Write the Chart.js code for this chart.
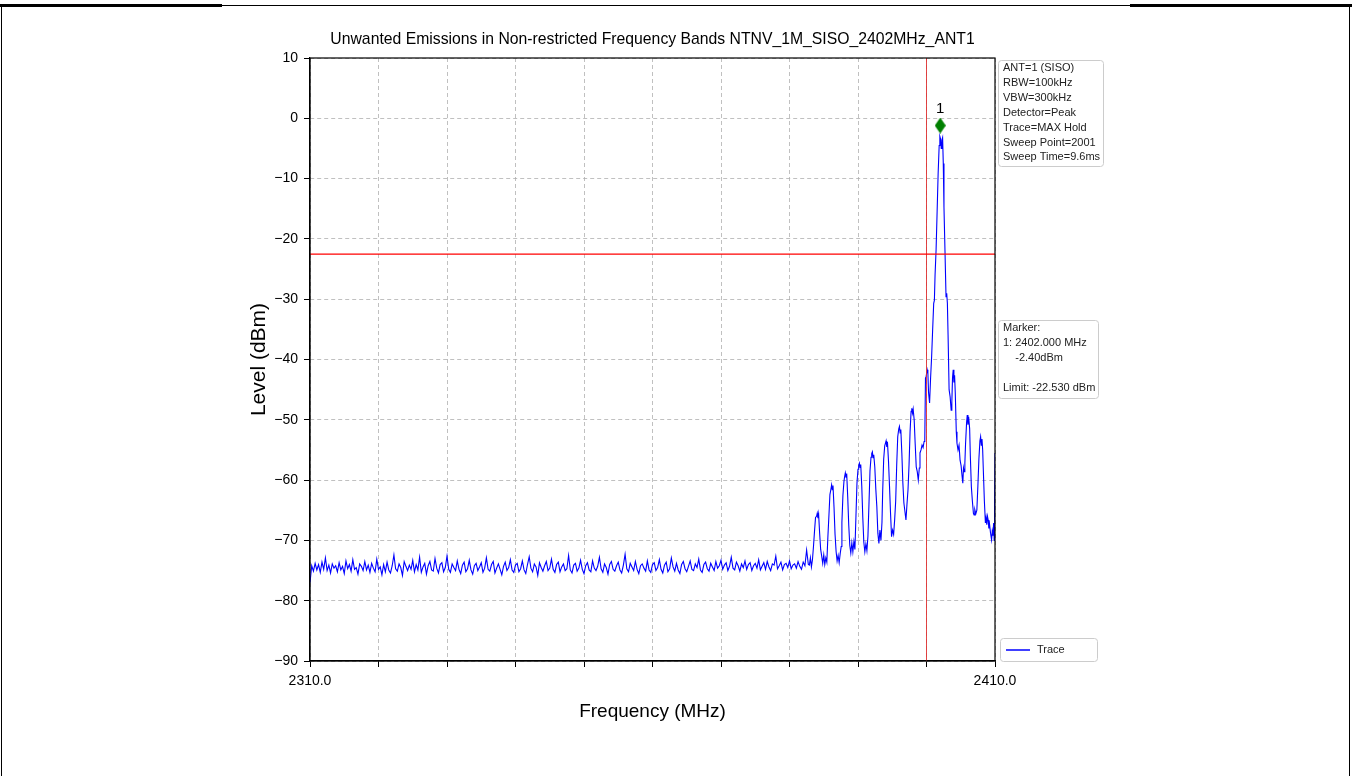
<!DOCTYPE html>
<html>
<head>
<meta charset="utf-8">
<title>Unwanted Emissions</title>
<script src="https://cdn.jsdelivr.net/npm/chart.js@4.4.0/dist/chart.umd.min.js"></script>
<style>
  html, body { margin: 0; padding: 0; background: #fff; }
  #wrap { position: relative; width: 1352px; height: 776px; overflow: hidden; }
  #chart { position: absolute; left: 0; top: 0; }
  .frame { position: absolute; background: #000; }
</style>
</head>
<body>
<div id="wrap">
  <canvas id="chart" width="1352" height="776"></canvas>
  <div class="frame" style="left:0;top:4px;width:222px;height:3px"></div>
  <div class="frame" style="left:222px;top:5px;width:908px;height:1px"></div>
  <div class="frame" style="left:1130px;top:4px;width:222px;height:3px"></div>
  <div class="frame" style="left:1px;top:5px;width:1px;height:771px"></div>
  <div class="frame" style="left:1349px;top:5px;width:1px;height:771px"></div>
</div>
<script>
// Spectrum plot, 2310 - 2410 MHz

const FONT = '"Liberation Sans", Arial, Helvetica, sans-serif';

const freqRange = [2310, 2410];
const levelRange = [-90, 10];
const freqTickLabels = ['2310.0', '2410.0'];

// noise floor, one reading every 0.25 MHz starting at 2310.0 MHz
const floorStart = 2310.0;
const floorStep = 0.25;
const floorLevels = [
  -77.0,-74.2,-75.1,-73.8,-74.9,-74.0,-75.3,-73.6,-74.8,-72.9,-75.0,-74.1,-75.4,-73.9,-74.6,-74.2,-75.2,-73.7,-74.9,-74.3,
  -75.5,-73.4,-74.7,-74.0,-75.1,-73.2,-74.8,-74.5,-75.6,-73.9,-74.3,-75.0,-73.5,-74.9,-74.1,-75.3,-73.8,-74.6,-75.2,-73.1,
  -74.8,-74.4,-75.7,-74.0,-75.2,-73.6,-74.9,-75.4,-74.2,-72.4,-74.7,-75.1,-73.9,-74.5,-75.8,-73.5,-74.3,-75.0,-74.1,-74.8,
  -73.3,-75.2,-74.0,-74.9,-72.8,-75.3,-74.4,-73.8,-75.6,-74.2,-73.5,-74.9,-75.1,-73.0,-74.6,-75.4,-74.0,-73.7,-75.2,-74.5,
  -72.6,-74.8,-75.3,-73.9,-74.5,-75.0,-73.4,-74.8,-75.5,-74.1,-73.6,-75.2,-74.7,-73.3,-74.9,-75.6,-74.2,-73.8,-75.0,-74.4,
  -73.7,-75.3,-74.6,-72.9,-74.8,-75.1,-74.0,-73.5,-75.4,-74.6,-73.9,-74.8,-75.7,-74.3,-73.6,-75.0,-74.5,-73.2,-74.9,-75.3,
  -74.1,-73.8,-75.2,-74.7,-73.4,-74.9,-75.5,-74.0,-72.7,-74.6,-75.2,-73.9,-74.4,-75.8,-73.7,-74.5,-75.1,-74.2,-73.5,-75.0,
  -74.6,-73.1,-74.8,-75.3,-74.0,-73.6,-75.2,-74.4,-73.9,-75.0,-74.7,-72.5,-74.9,-75.4,-74.1,-73.8,-75.1,-74.6,-73.3,-74.8,
  -75.5,-74.2,-73.7,-74.9,-75.2,-73.4,-74.6,-75.0,-74.3,-72.8,-74.7,-75.3,-73.9,-74.5,-75.6,-74.0,-73.5,-74.8,-75.1,-74.2,
  -73.6,-74.9,-75.4,-74.1,-72.3,-74.7,-75.2,-73.8,-74.4,-75.0,-73.5,-74.8,-75.5,-74.2,-73.9,-74.6,-75.1,-73.4,-74.9,-75.3,
  -74.0,-73.7,-75.0,-74.5,-73.2,-74.8,-75.4,-74.1,-73.6,-75.2,-74.7,-72.9,-74.4,-75.1,-73.8,-74.9,-75.5,-74.0,-73.5,-74.7,
  -75.2,-74.3,-73.4,-74.8,-75.0,-73.9,-74.5,-73.1,-74.9,-75.3,-74.0,-73.6,-74.7,-75.1,-73.8,-74.4,-75.0,-73.5,-74.6,-74.2,
  -73.3,-74.8,-74.1,-73.7,-75.0,-74.3,-72.8,-74.6,-74.9,-73.6,-74.2,-75.1,-73.9,-74.5,-73.4,-74.8,-74.0,-73.7,-75.0,-74.2,
  -73.8,-74.6,-73.2,-74.9,-74.3,-73.7,-74.8,-73.5,-74.4,-75.0,-73.9,-74.1,-72.6,-74.7,-74.2,-73.6,-74.9,-74.0,-73.8,-74.5,
  -73.4,-74.7,-74.1,-73.9,-74.6,-73.5,-74.3,-74.8,-73.6,-74.2,-71.6,-74.0
];

// band edge side lobes and the carrier, [MHz, dBm]
const edgeTrace = [
  [2382.9,-74.1],[2383.05,-72.9],[2383.2,-74.4],[2383.35,-73.2],
  [2383.5,-71.0],[2383.65,-68.5],[2383.8,-66.2],[2383.95,-66.0],[2384.05,-65.5],[2384.15,-66.3],[2384.25,-65.6],[2384.4,-68.8],
  [2384.55,-71.5],[2384.7,-72.6],[2384.85,-73.8],[2385.0,-72.4],[2385.15,-74.0],[2385.3,-72.9],[2385.45,-73.6],
  [2385.6,-69.5],[2385.75,-66.0],[2385.9,-62.4],[2386.05,-61.5],[2386.15,-60.8],[2386.25,-61.6],[2386.35,-60.9],[2386.5,-64.5],
  [2386.65,-69.0],[2386.8,-71.8],[2386.95,-73.4],[2387.1,-72.5],[2387.25,-73.7],[2387.4,-72.2],[2387.55,-71.0],
  [2387.65,-67.0],[2387.8,-62.5],[2387.95,-60.2],[2388.05,-59.4],[2388.15,-58.8],[2388.25,-59.5],[2388.35,-58.9],[2388.5,-62.8],
  [2388.65,-67.5],[2388.8,-70.8],[2388.95,-72.1],[2389.1,-70.4],[2389.25,-71.9],[2389.4,-70.2],[2389.55,-71.5],
  [2389.7,-66.0],[2389.85,-60.5],[2390.0,-58.2],[2390.1,-57.6],[2390.2,-57.2],[2390.3,-57.9],[2390.4,-57.4],[2390.55,-61.0],
  [2390.7,-66.2],[2390.85,-70.3],[2391.0,-71.9],[2391.15,-70.6],[2391.3,-71.7],[2391.45,-69.3],
  [2391.6,-64.0],[2391.75,-58.5],[2391.9,-56.2],[2392.0,-55.6],[2392.1,-55.3],[2392.2,-56.3],[2392.3,-55.8],[2392.45,-57.8],
  [2392.6,-61.5],[2392.75,-64.4],[2392.9,-68.8],[2393.05,-70.5],[2393.2,-68.3],[2393.35,-70.0],[2393.5,-67.0],
  [2393.6,-62.0],[2393.75,-56.5],[2393.9,-54.3],[2394.0,-53.9],[2394.1,-53.5],[2394.2,-54.5],[2394.3,-53.7],[2394.45,-56.8],
  [2394.6,-61.0],[2394.75,-65.5],[2394.9,-69.4],[2395.05,-68.3],[2395.2,-69.0],[2395.35,-66.6],[2395.5,-63.5],
  [2395.65,-57.5],[2395.8,-52.8],[2395.95,-51.5],[2396.05,-51.1],[2396.15,-52.2],[2396.25,-51.6],[2396.4,-55.5],[2396.55,-60.5],
  [2396.7,-63.8],[2396.85,-65.2],[2397.0,-66.6],[2397.15,-64.0],[2397.3,-61.6],[2397.45,-57.5],
  [2397.6,-52.0],[2397.75,-48.6],[2397.85,-48.1],[2397.95,-48.9],[2398.05,-48.2],[2398.2,-50.0],[2398.35,-54.0],[2398.5,-57.8],
  [2398.65,-58.6],[2398.8,-60.0],[2398.95,-58.0],[2399.05,-55.5],[2399.2,-55.0],[2399.35,-54.2],[2399.5,-54.6],[2399.65,-53.6],[2399.75,-53.3],
  [2399.85,-43.1],[2399.95,-42.8],[2400.1,-41.7],[2400.2,-42.2],[2400.3,-45.5],[2400.45,-47.2],[2400.6,-43.0],[2400.75,-39.5],
  [2400.9,-35.0],[2401.05,-30.7],[2401.15,-30.2],[2401.25,-26.0],[2401.4,-21.8],[2401.55,-15.5],[2401.7,-9.1],[2401.85,-4.5],
  [2401.95,-3.0],[2402.05,-3.4],[2402.15,-5.0],[2402.25,-3.6],[2402.35,-3.2],[2402.45,-7.5],[2402.55,-14.7],[2402.7,-22.0],
  [2402.85,-29.6],[2402.95,-29.0],[2403.05,-30.7],[2403.15,-36.0],[2403.3,-45.0],[2403.45,-46.2],[2403.6,-48.4],[2403.7,-47.0],
  [2403.8,-43.0],[2403.9,-41.7],[2404.0,-43.8],[2404.1,-42.6],[2404.2,-45.5],[2404.35,-52.0],[2404.45,-53.9],[2404.6,-55.0],
  [2404.75,-54.2],[2404.9,-56.7],[2405.05,-57.6],[2405.2,-59.4],[2405.3,-60.5],[2405.4,-58.0],[2405.5,-58.6],[2405.6,-57.2],
  [2405.7,-54.0],[2405.85,-50.5],[2405.95,-49.2],[2406.05,-50.8],[2406.15,-49.5],[2406.3,-51.5],[2406.4,-56.0],[2406.55,-61.1],
  [2406.7,-63.5],[2406.85,-65.5],[2406.95,-65.8],[2407.05,-64.9],[2407.2,-65.6],[2407.35,-65.0],[2407.5,-61.0],[2407.65,-56.5],
  [2407.8,-53.5],[2407.9,-52.8],[2408.0,-54.2],[2408.1,-53.2],[2408.2,-55.0],[2408.3,-58.5],[2408.45,-63.5],[2408.6,-67.1],
  [2408.7,-66.2],[2408.8,-67.4],[2408.9,-66.0],[2409.0,-66.6],[2409.1,-68.0],[2409.2,-67.3],[2409.35,-68.8],[2409.5,-69.9],
  [2409.6,-68.5],[2409.7,-69.2],[2409.8,-67.1],[2409.88,-70.0],[2409.94,-64.0],[2410.0,-55.5]
];

const limitLevel = -22.53;
const bandEdgeFreq = 2400.0;
const markerFreq = 2402.0;
const markerLevel = -1.2;   // where the diamond sits on the plot
const markerLabel = '1';

const settingsText = ['ANT=1 (SISO)', 'RBW=100kHz', 'VBW=300kHz', 'Detector=Peak',
  'Trace=MAX Hold', 'Sweep Point=2001', 'Sweep Time=9.6ms'];
const markerText = ['Marker:', '1: 2402.000 MHz', '    -2.40dBm', '', 'Limit: -22.530 dBm'];
const titleText = 'Unwanted Emissions in Non-restricted Frequency Bands NTNV_1M_SISO_2402MHz_ANT1';

// trace points
const tracePoints = floorLevels
  .map((v, i) => ({ x: floorStart + i * floorStep, y: v }))
  .concat(edgeTrace.map(p => ({ x: p[0], y: p[1] })));

// thin diamond like matplotlib's 'd'
function thinDiamond(w, h, color) {
  const c = document.createElement('canvas');
  c.width = w; c.height = h;
  const g = c.getContext('2d');
  g.fillStyle = color;
  g.beginPath();
  g.moveTo(w / 2, 0);
  g.lineTo(w, h / 2);
  g.lineTo(w / 2, h);
  g.lineTo(0, h / 2);
  g.closePath();
  g.fill();
  return c;
}

function textBox(ctx, x, y, w, h, lines, lineGap) {
  ctx.save();
  ctx.fillStyle = 'rgba(255,255,255,0.85)';
  ctx.strokeStyle = '#cccccc';
  ctx.lineWidth = 1;
  ctx.beginPath();
  ctx.roundRect(x + 0.5, y + 0.5, w, h, 3);
  ctx.fill();
  ctx.stroke();
  ctx.fillStyle = '#222';
  ctx.font = '11px ' + FONT;
  ctx.textBaseline = 'middle';
  ctx.textAlign = 'left';
  lines.forEach((t, i) => ctx.fillText(t, x + 5, y + 8 + i * lineGap));
  ctx.restore();
}

const decorations = {
  id: 'decorations',
  afterDraw(chart) {
    const ctx = chart.ctx;
    const a = chart.chartArea;
    const xs = chart.scales.x, ys = chart.scales.y;

    // full frame round the axes
    ctx.save();
    ctx.strokeStyle = '#000';
    ctx.lineWidth = 1.2;
    ctx.strokeRect(a.left, a.top, a.right - a.left, a.bottom - a.top);

    // title
    ctx.fillStyle = '#000';
    ctx.font = '15.75px ' + FONT;
    ctx.textAlign = 'center';
    ctx.textBaseline = 'middle';
    ctx.fillText(titleText, (a.left + a.right) / 2, 40);

    // marker number above the diamond
    ctx.font = '15px ' + FONT;
    ctx.fillText(markerLabel, xs.getPixelForValue(markerFreq), ys.getPixelForValue(markerLevel) - 17);
    ctx.restore();

    textBox(ctx, a.right + 3, 60, 105, 106, settingsText, 14.9);
    textBox(ctx, a.right + 3, 320, 100, 78, markerText, 15);

    // legend
    ctx.save();
    ctx.fillStyle = 'rgba(255,255,255,0.85)';
    ctx.strokeStyle = '#cccccc';
    ctx.beginPath();
    ctx.roundRect(a.right + 5.5, 638.5, 97, 23, 3);
    ctx.fill();
    ctx.stroke();
    ctx.strokeStyle = '#0000ff';
    ctx.lineWidth = 1.5;
    ctx.beginPath();
    ctx.moveTo(a.right + 11, 650);
    ctx.lineTo(a.right + 35, 650);
    ctx.stroke();
    ctx.fillStyle = '#222';
    ctx.font = '11px ' + FONT;
    ctx.textBaseline = 'middle';
    ctx.fillText('Trace', a.right + 42, 650);
    ctx.restore();
  }
};

const axisFont = { family: FONT, size: 14 };

new Chart(document.getElementById('chart'), {
  type: 'line',
  data: {
    datasets: [
      {
        label: 'Marker',
        data: [{ x: markerFreq, y: markerLevel }],
        showLine: false,
        pointStyle: thinDiamond(11, 16, '#008000'),
        pointRadius: 8,
        order: 0
      },
      {
        label: 'Limit',
        data: [{ x: freqRange[0], y: limitLevel }, { x: freqRange[1], y: limitLevel }],
        borderColor: '#ff0000',
        borderWidth: 1.3,
        pointRadius: 0,
        order: 1
      },
      {
        label: 'Band edge',
        data: [{ x: bandEdgeFreq, y: levelRange[0] }, { x: bandEdgeFreq, y: levelRange[1] }],
        borderColor: '#e03030',
        borderWidth: 0.9,
        pointRadius: 0,
        order: 1
      },
      {
        label: 'Trace',
        data: tracePoints,
        borderColor: '#0000ff',
        borderWidth: 1.1,
        pointRadius: 0,
        tension: 0,
        order: 2
      }
    ]
  },
  options: {
    responsive: false,
    animation: false,
    devicePixelRatio: 1,
    layout: { padding: { left: 247, right: 357, top: 58, bottom: 50 } },
    plugins: { legend: { display: false }, tooltip: { enabled: false } },
    scales: {
      x: {
        type: 'linear',
        min: freqRange[0],
        max: freqRange[1],
        ticks: {
          stepSize: 10,
          autoSkip: false,
          maxRotation: 0,
          padding: 6,
          color: '#000',
          font: axisFont,
          callback: (v, i, ticks) => i === 0 ? freqTickLabels[0] : (i === ticks.length - 1 ? freqTickLabels[1] : '')
        },
        grid: { color: '#b0b0b0', lineWidth: 0.8, tickColor: '#000', tickLength: 6, tickWidth: 1 },
        border: { color: '#000', width: 1.2, dash: [4, 3] },
        title: { display: true, text: 'Frequency (MHz)', color: '#000', font: { family: FONT, size: 19 }, padding: { top: 0, bottom: 3 } },
        afterFit: s => { s.height = 65; }
      },
      y: {
        min: levelRange[0],
        max: levelRange[1],
        ticks: {
          stepSize: 10,
          padding: 6,
          color: '#000',
          font: axisFont,
          callback: v => v < 0 ? '\u2212' + Math.abs(v) : String(v)
        },
        grid: { color: '#b0b0b0', lineWidth: 0.8, tickColor: '#000', tickLength: 6, tickWidth: 1 },
        border: { color: '#000', width: 1.2, dash: [4, 3] },
        title: { display: true, text: 'Level (dBm)', color: '#000', font: { family: FONT, size: 21 }, padding: { top: 0, bottom: 0 } },
        afterFit: s => { s.width = 63; }
      }
    }
  },
  plugins: [decorations]
});
</script>
</body>
</html>
